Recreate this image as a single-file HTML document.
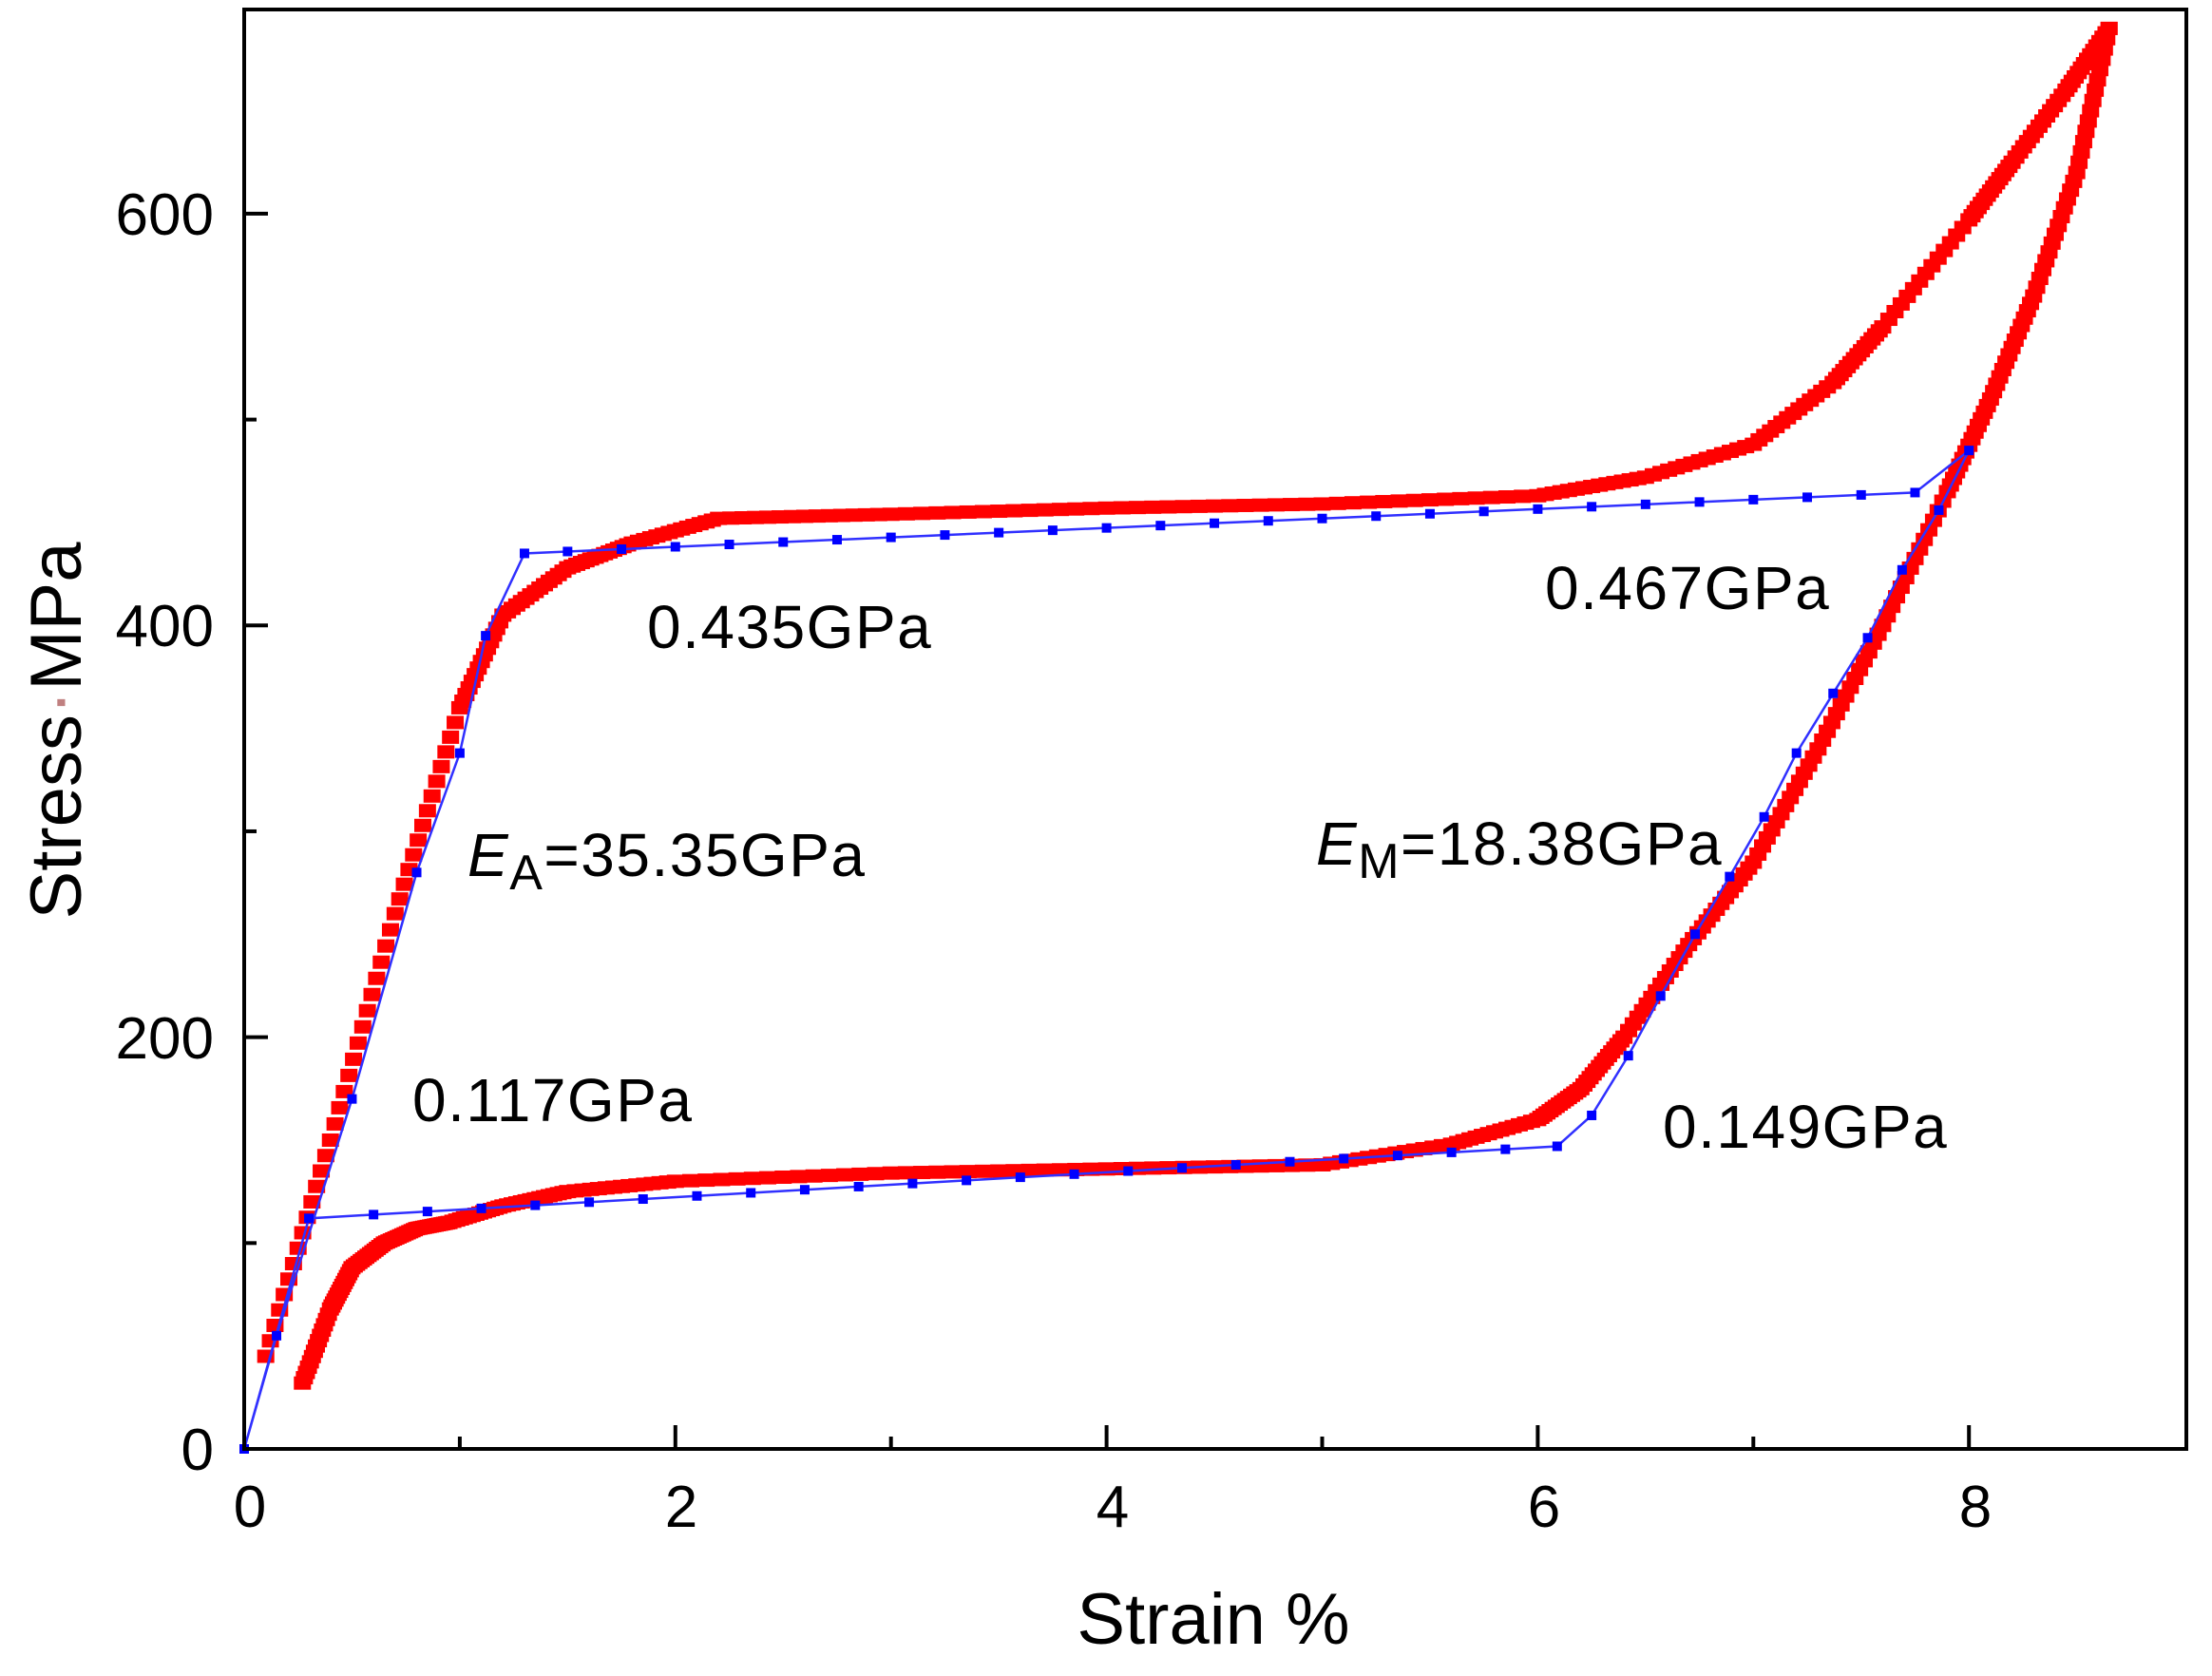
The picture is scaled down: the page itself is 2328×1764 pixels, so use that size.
<!DOCTYPE html>
<html><head><meta charset="utf-8"><style>
html,body{margin:0;padding:0;background:#fff;width:2328px;height:1764px;overflow:hidden}
svg text{font-family:"Liberation Sans",Arial,sans-serif;fill:#000}
</style></head><body>
<svg id="s" width="2328" height="1764" viewBox="0 0 2328 1764" xmlns="http://www.w3.org/2000/svg">
<g id="red" fill="#ff0000"></g>
<g id="blue"></g>
<rect x="257" y="10" width="2044" height="1515" fill="none" stroke="#000" stroke-width="4"/>
<g id="ticks" stroke="#000" stroke-width="4"></g>
<g font-size="62" text-anchor="middle">
<text x="263" y="1607">0</text><text x="717" y="1607">2</text><text x="1171" y="1607">4</text><text x="1625" y="1607">6</text><text x="2079" y="1607">8</text>
</g>
<g font-size="62" text-anchor="end">
<text x="225" y="1547">0</text><text x="225" y="1114">200</text><text x="225" y="680">400</text><text x="225" y="247">600</text>
</g>
<text x="1277" y="1730" font-size="76" text-anchor="middle">Strain %</text>
<text transform="translate(85,769) rotate(-90)" font-size="76" text-anchor="middle">Stress<tspan fill="#c08080">·</tspan>MPa</text>
<g font-size="64" letter-spacing="1.5">
<text x="681" y="682">0.435GPa</text>
<text x="1626" y="641">0.467GPa</text>
<text x="492" y="922"><tspan font-style="italic">E</tspan><tspan font-size="52" dy="14">A</tspan><tspan dy="-14">=35.35GPa</tspan></text>
<text x="1385" y="910"><tspan font-style="italic">E</tspan><tspan font-size="52" dy="14">M</tspan><tspan dy="-14">=18.38GPa</tspan></text>
<text x="434" y="1180">0.117GPa</text>
<text x="1750" y="1208">0.149GPa</text>
</g>
</svg>
<script>
var NS="http://www.w3.org/2000/svg";
function X(s){return 257+226.9*s}
function Y(v){return 1525-2.1668*v}
function el(p,t,a){var e=document.createElementNS(NS,t);for(var k in a)e.setAttribute(k,a[k]);p.appendChild(e);return e}
var tk=document.getElementById('ticks');
for(var i=1;i<=8;i++){var L=(i%2==0)?25:13;el(tk,'line',{x1:X(i),x2:X(i),y1:1525,y2:1525-L});}
for(var v=100;v<=600;v+=100){var L=(v%200==0)?25:13;el(tk,'line',{x1:257,x2:257+L,y1:Y(v),y2:Y(v)});}
function interp(pts,n){var out=[];for(var i=0;i<pts.length-1;i++){var a=pts[i],b=pts[i+1];for(var j=0;j<n;j++){var t=j/n;out.push([a[0]+(b[0]-a[0])*t,a[1]+(b[1]-a[1])*t]);}}out.push(pts[pts.length-1]);return out}
var load=[[0.1,45],[0.4,150],[0.7,260],[1.0,360],[1.2,405],[1.5,428],[1.8,440],[2.2,452],[3,454],[4,457],[5,459],[6,463],[6.5,472],[7,488],[7.37,518],[7.6,545],[8.0,597],[8.2,625],[8.45,660],[8.65,690]];
var unload=[[8.65,690],[8.5,620],[8.3,560],[8.1,510],[7.9,465],[7.6,400],[7.3,340],[7.0,285],[6.7,245],[6.4,200],[6.2,175],[6.0,160],[5.6,148],[5.0,138],[4,136],[3,134],[2,130],[1.5,125],[1.2,118],[0.95,110],[0.8,107],[0.65,100],[0.5,88],[0.4,68],[0.27,32]];
var red=document.getElementById('red');
[load,unload].forEach(function(p){interp(p,14).forEach(function(q){el(red,'rect',{x:X(q[0])-9,y:Y(q[1])-7,width:18,height:14});});});
var bl=document.getElementById('blue');
var bpts=[[0,0],[0.15,55],[0.5,170],[0.8,280],[1.0,338],[1.12,395],[1.3,435]];
for(var s=1.5;s<=7.85;s+=0.25)bpts.push([s,435+(s-1.3)*(465-435)/(7.85-1.3)]);
bpts.push([8.0,485],[7.86,456],[7.69,427],[7.53,394],[7.37,367],[7.2,338],[7.05,307],[6.89,278],[6.73,250],[6.57,220],[6.42,191],[6.25,162],[6.09,147]);
for(var s=5.85;s>=0.4;s-=0.25)bpts.push([s,112+(s-0.3)*(147-112)/(6.09-0.3)]);
bpts.push([0.3,112],[0,0]);
el(bl,'polyline',{points:bpts.map(function(q){return X(q[0])+','+Y(q[1])}).join(' '),fill:'none',stroke:'#3030ff','stroke-width':2.5});
bpts.forEach(function(q){el(bl,'rect',{x:X(q[0])-5,y:Y(q[1])-5,width:10,height:10,fill:'#0000ff'});});
</script>
</body></html>
